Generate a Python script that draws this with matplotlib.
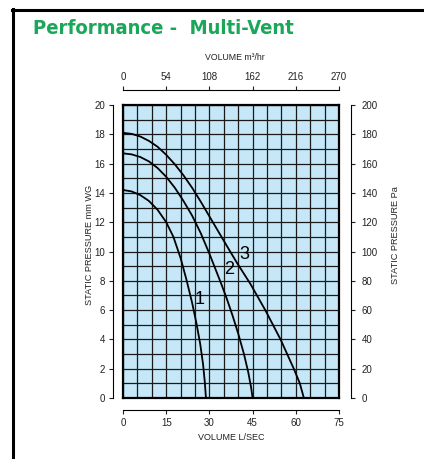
import matplotlib
matplotlib.use('Agg')
import matplotlib.pyplot as plt
from matplotlib.lines import Line2D
import numpy as np

# fan curves: volume (L/s) vs static pressure (mm WG)
q1 = [0, 3, 6, 9, 12, 15, 17.5, 20, 22, 24, 25.5, 26.8, 27.8, 28.4, 28.8]
p1 = [14.2, 14.1, 13.85, 13.45, 12.85, 12.0, 11.0, 9.55, 8.1, 6.5, 5.1, 3.7, 2.3, 1.1, 0]
q2 = [0, 3, 6, 9, 12, 15, 18, 21, 24, 27, 30, 32, 34, 36, 38, 40, 42, 43.5, 44.5, 45]
p2 = [16.7, 16.63, 16.45, 16.15, 15.7, 15.1, 14.35, 13.45, 12.45, 11.25, 9.85,
      8.85, 7.85, 6.8, 5.65, 4.4, 3.0, 1.75, 0.7, 0]
q3 = [0, 3, 6, 9, 12, 15, 18, 21, 24, 27, 30, 33, 36, 39.5, 44.2, 49.4, 54.7, 59.3, 61.4, 62.8]
p3 = [18.1, 18.03, 17.85, 17.55, 17.15, 16.6, 15.95, 15.2, 14.35, 13.4, 12.4,
      11.4, 10.4, 9.25, 7.8, 6.0, 4.0, 2.0, 1.0, 0]
curves = [(q1, p1), (q2, p2), (q3, p3)]
curve_names = ['1', '2', '3']
name_pos = [(26.6, 6.7), (36.9, 8.8), (42.0, 9.8)]

ls_ticks = [0, 15, 30, 45, 60, 75]
m3h_ticks = [0, 54, 108, 162, 216, 270]
mmwg_ticks = list(range(0, 21, 2))
pa_ticks = list(range(0, 201, 20))

W, H = 424, 459
FONT = ['Liberation Sans', 'DejaVu Sans']
plt.rcParams['font.family'] = FONT

fig = plt.figure(figsize=(W / 100, H / 100), dpi=100)
fig.patch.set_facecolor('white')

def px(x, y):
    return x / W, 1 - y / H

pos = [123 / W, 61 / H, 216 / W, 293 / H]

ax = fig.add_axes(pos)
ax.set_facecolor('#c6e7f7')
ax.set_xlim(0, 75)
ax.set_ylim(0, 20)
ax.set_xticks(np.arange(0, 76, 5))
ax.set_yticks(np.arange(0, 21, 1))
ax.tick_params(length=0, labelbottom=False, labelleft=False)
ax.grid(True, color='#1a1a1a', lw=0.9)
for s in ax.spines.values():
    s.set_linewidth(1.6)
    s.set_color('black')

for (q, p) in curves:
    ax.plot(q, p, color='black', lw=1.3, zorder=3)
for name, (x, y) in zip(curve_names, name_pos):
    ax.text(x, y, name, fontsize=13, ha='center', va='center', zorder=4)

# left / bottom scales
sc = fig.add_axes(pos, facecolor='none')
sc.set_xlim(0, 75)
sc.set_ylim(0, 20)
sc.spines['top'].set_visible(False)
sc.spines['right'].set_visible(False)
sc.spines['left'].set_position(('outward', 7.2))
sc.spines['bottom'].set_position(('outward', 8.6))
sc.set_xticks(ls_ticks)
sc.set_yticks(mmwg_ticks)
sc.tick_params(length=3, width=0.8, labelsize=7, colors='#222222', pad=2.5)

# top / right scales
sc2 = fig.add_axes(pos, facecolor='none')
sc2.set_xlim(0, 270)
sc2.set_ylim(0, 200)
sc2.spines['bottom'].set_visible(False)
sc2.spines['left'].set_visible(False)
sc2.spines['right'].set_position(('outward', 8.6))
sc2.spines['top'].set_position(('outward', 10.8))
sc2.xaxis.tick_top()
sc2.yaxis.tick_right()
sc2.set_xticks(m3h_ticks)
sc2.set_yticks(pa_ticks)
sc2.tick_params(length=3, width=0.8, labelsize=7, colors='#222222', pad=4.5)
sc2.tick_params(axis='x', pad=3)

fig.text(*px(235, 58), 'VOLUME m³/hr', fontsize=6.3, ha='center', va='center', color='#222222')
fig.text(*px(231, 437), 'VOLUME L/SEC', fontsize=6.5, ha='center', va='center', color='#222222')
fig.text(*px(89, 245), 'STATIC PRESSURE mm WG', fontsize=6.6, rotation=90,
         ha='center', va='center', color='#222222')
fig.text(*px(396, 235), 'STATIC PRESSURE Pa', fontsize=6.6, rotation=90,
         ha='center', va='center', color='#222222')

fig.text(*px(33, 29), 'Performance -  Multi-Vent', fontsize=14.5, fontweight='bold',
         family=['DejaVu Sans'], fontstretch='condensed', color='#1ba75a',
         ha='left', va='center')

# page frame
fig.add_artist(Line2D([12 / W, 1], [1 - 9.5 / H] * 2, transform=fig.transFigure,
                      color='black', lw=2.2))
fig.add_artist(Line2D([12.5 / W] * 2, [0, 1 - 8.5 / H], transform=fig.transFigure,
                      color='black', lw=2.2))

fig.savefig('out.png', dpi=100)
